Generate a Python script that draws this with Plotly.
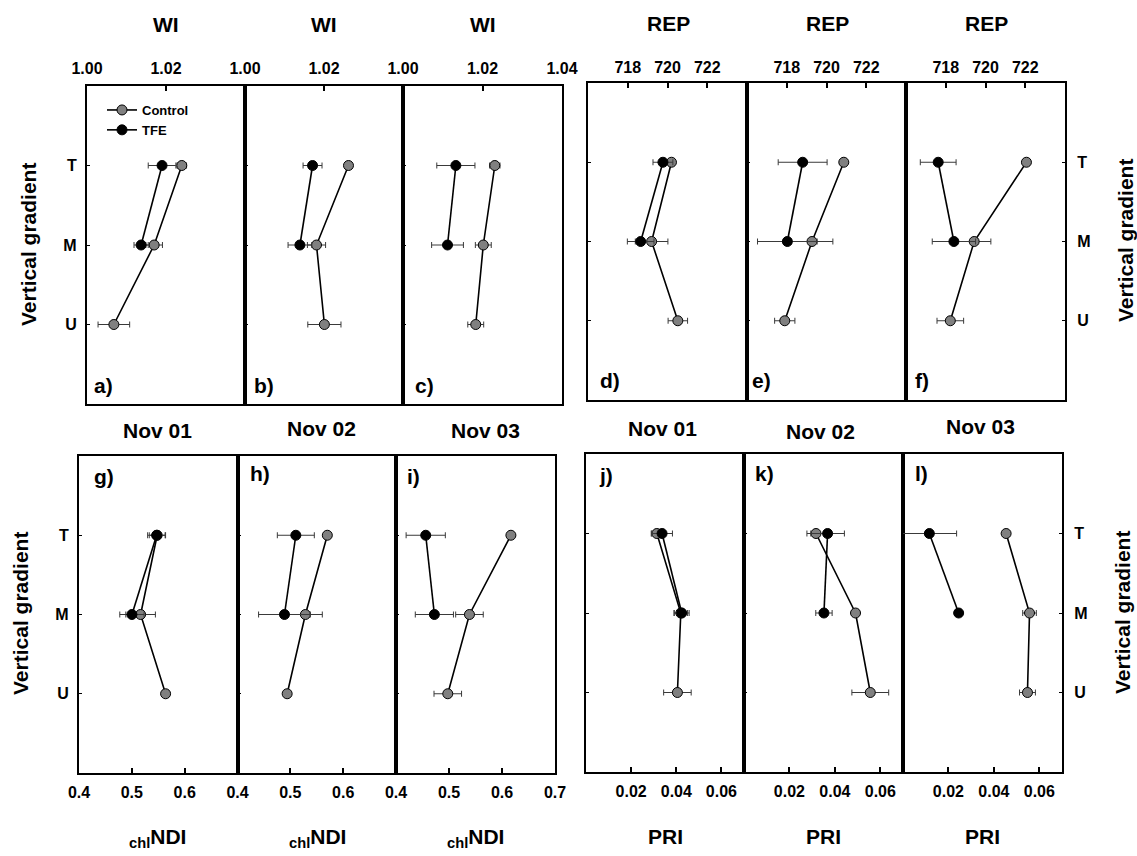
import plotly.graph_objects as go

# ---------------- data ----------------
levels_ctrl = ["T", "M", "U"]
levels_tfe = ["T", "M"]
dates = ["Nov 01", "Nov 02", "Nov 03"]

# WI
wi_ctrl = [[1.0240, 1.0170, 1.0068], [1.0262, 1.0181, 1.0201], [1.0231, 1.0202, 1.0183]]
wi_ctrl_err = [[0.0012, 0.0021, 0.0040], [0.0000, 0.0023, 0.0042], [0.0013, 0.0020, 0.0020]]
wi_tfe = [[1.0190, 1.0137], [1.0171, 1.0139], [1.0133, 1.0112]]
wi_tfe_err = [[0.0035, 0.0018], [0.0024, 0.0030], [0.0048, 0.0040]]

# REP
rep_ctrl = [[720.20, 719.20, 720.52], [720.87, 719.27, 717.90], [722.06, 719.43, 718.23]]
rep_ctrl_err = [[0.15, 0.82, 0.49], [0.00, 1.05, 0.51], [0.15, 0.84, 0.67]]
rep_tfe = [[719.77, 718.65], [718.80, 718.03], [717.62, 718.41]]
rep_tfe_err = [[0.50, 0.67], [1.23, 1.50], [0.90, 1.09]]

# chlNDI
ndi_ctrl = [[0.548, 0.5166, 0.5639], [0.570, 0.5285, 0.4940], [0.6168, 0.5386, 0.4977]]
ndi_ctrl_err = [[0.015, 0.028, 0.000], [0.000, 0.032, 0.000], [0.000, 0.026, 0.026]]
ndi_tfe = [[0.5469, 0.5002], [0.5104, 0.4889], [0.4561, 0.4724]]
ndi_tfe_err = [[0.017, 0.023], [0.035, 0.049], [0.037, 0.036]]

# PRI
pri_ctrl = [[0.0314, 0.0420, 0.0405], [0.0317, 0.0491, 0.0556], [0.0454, 0.0557, 0.0548]]
pri_ctrl_err = [[0.0025, 0.0030, 0.0061], [0.0040, 0.0000, 0.0081], [0.0000, 0.0030, 0.0035]]
pri_tfe = [[0.0337, 0.0424], [0.0368, 0.0352], [0.0116, 0.0245]]
pri_tfe_err = [[0.0046, 0.0033], [0.0074, 0.0036], [0.0120, 0.0000]]

wi_ticks = [1.00, 1.02, 1.04]
rep_ticks = [718, 720, 722]
ndi_ticks = [0.4, 0.5, 0.6, 0.7]
pri_ticks = [0.02, 0.04, 0.06]

panel_letters = ["a)", "b)", "c)", "d)", "e)", "f)", "g)", "h)", "i)", "j)", "k)", "l)"]

# ---------------- layout helpers ----------------
W, H = 1137, 856
FONT = "Liberation Sans, Arial, sans-serif"


def fx(p):
    return p / W


def fy(p):
    return 1 - p / H


groups = [
    dict(title="WI", ctrl=wi_ctrl, ce=wi_ctrl_err, tfe=wi_tfe, te=wi_tfe_err,
         xb=[87, 245, 403, 562], yb=[86, 404], rng=[1.00, 1.04], ticks=wi_ticks,
         fmt="{:.2f}", top=True, yside="left", xstand=4,
         letters_xy=[(92, 385), (252, 385), (413, 385)]),
    dict(title="REP", ctrl=rep_ctrl, ce=rep_ctrl_err, tfe=rep_tfe, te=rep_tfe_err,
         xb=[588, 747, 906, 1065], yb=[83, 400], rng=[716, 724], ticks=rep_ticks,
         fmt="{:.0f}", top=True, yside="right", xstand=2,
         letters_xy=[(598, 381), (750, 381), (913, 381)]),
    dict(title="<sub>chl</sub>NDI", ctrl=ndi_ctrl, ce=ndi_ctrl_err, tfe=ndi_tfe, te=ndi_tfe_err,
         xb=[79, 237.5, 396, 555], yb=[456, 773], rng=[0.4, 0.7], ticks=ndi_ticks,
         fmt="{:.1f}", top=False, yside="left", xstand=4,
         letters_xy=[(92, 477), (248, 473), (405, 477)]),
    dict(title="PRI", ctrl=pri_ctrl, ce=pri_ctrl_err, tfe=pri_tfe, te=pri_tfe_err,
         xb=[586, 744, 903, 1062], yb=[454, 772], rng=[0.0, 0.07], ticks=pri_ticks,
         fmt="{:.2f}", top=False, yside="right", xstand=4,
         letters_xy=[(597, 475), (753, 473), (913, 473)]),
]

fig = go.Figure()
layout = dict(width=W, height=H, margin=dict(l=0, r=0, t=0, b=0, pad=0, autoexpand=False),
              paper_bgcolor="white", plot_bgcolor="white",
              font=dict(family=FONT, size=16, color="black", weight="bold"),
              showlegend=True)
annotations = []

err_style = dict(type="data", visible=True, color="#3a3a3a", thickness=1, width=3)
k = 0
for gi, g in enumerate(groups):
    for di in range(3):
        k += 1
        xa = f"x{k}" if k > 1 else "x"
        ya = f"y{k}" if k > 1 else "y"
        xkey = f"xaxis{k}" if k > 1 else "xaxis"
        ykey = f"yaxis{k}" if k > 1 else "yaxis"
        first = (k == 1)
        # Control
        fig.add_trace(go.Scatter(
            x=g["ctrl"][di], y=levels_ctrl, xaxis=xa, yaxis=ya,
            mode="lines+markers", name="Control", legendgroup="Control", showlegend=first,
            line=dict(color="black", width=1.6),
            marker=dict(size=10, color="#808080", line=dict(color="black", width=1)),
            error_x=dict(array=g["ce"][di], **err_style)))
        # TFE
        fig.add_trace(go.Scatter(
            x=g["tfe"][di], y=levels_tfe, xaxis=xa, yaxis=ya,
            mode="lines+markers", name="TFE", legendgroup="TFE", showlegend=first,
            line=dict(color="black", width=1.6),
            marker=dict(size=10, color="black", line=dict(color="black", width=1)),
            error_x=dict(array=g["te"][di], **err_style)))

        tv = [t for t in g["ticks"] if t < g["rng"][1] - 1e-9 or di == 2]
        lo, hi = g["rng"]
        eps = (hi - lo) * 1e-6
        layout[xkey] = dict(
            domain=[fx(g["xb"][di]), fx(g["xb"][di + 1])], anchor=ya,
            range=[lo - eps, hi + eps], tickmode="array", tickvals=tv,
            ticktext=[g["fmt"].format(t) for t in tv], tickangle=0,
            side="top" if g["top"] else "bottom", automargin=False,
            ticks="inside", ticklen=5, tickwidth=2, tickcolor="black",
            ticklabelstandoff=g["xstand"],
            tickfont=dict(family=FONT, size=16, color="black", weight="bold"),
            showline=True, linewidth=2.2, linecolor="black", mirror=True,
            showgrid=False, zeroline=False, fixedrange=True)
        outer = (g["yside"] == "left" and di == 0) or (g["yside"] == "right" and di == 2)
        layout[ykey] = dict(
            domain=[fy(g["yb"][1]), fy(g["yb"][0])], anchor=xa,
            type="category", categoryorder="array", categoryarray=levels_ctrl,
            range=[3, -1], side=g["yside"] if outer else "left", automargin=False,
            showticklabels=outer, ticks="inside", ticklen=3, tickwidth=1, tickcolor="black",
            ticklabelstandoff=5 if g["yside"] == "left" else 7,
            tickfont=dict(family=FONT, size=16, color="black", weight="bold"),
            showline=True, linewidth=2.2, linecolor="black", mirror=True,
            showgrid=False, zeroline=False, fixedrange=True)

        # panel letters
        lx, ly = g["letters_xy"][di]
        annotations.append(dict(text=panel_letters[k - 1], x=fx(lx), y=fy(ly), xref="paper", yref="paper",
                                xanchor="left", yanchor="middle", showarrow=False,
                                font=dict(family=FONT, size=21, color="black", weight="bold")))

# index titles (top) / axis titles (bottom)
title_font = dict(family=FONT, size=21, color="black", weight="bold")


def add_text(t, xv, yv, angle=0):
    annotations.append(dict(text=t, x=fx(xv), y=fy(yv), xref="paper", yref="paper",
                            xanchor="center", yanchor="middle", showarrow=False,
                            textangle=angle, font=title_font))


top_titles = [("WI", [166, 324, 483], 25), ("REP", [668, 827, 986], 23)]
for t, xs, yv in top_titles:
    for xv in xs:
        add_text(t, xv, yv)
bottom_titles = [("<sub>chl</sub>NDI", [157, 317, 475], 838), ("PRI", [665, 823, 982], 836)]
for t, xs, yv in bottom_titles:
    for xv in xs:
        add_text(t, xv, yv)

# dates between rows
date_pos = [[(157, 430), (321, 428), (485, 430)], [(662, 428), (820, 431), (980, 426)]]
for row in date_pos:
    for (xv, yv), d in zip(row, dates):
        add_text(d, xv, yv)

# vertical gradient labels
for xv, yv in [(28, 245), (20, 614), (1125, 241), (1122, 613)]:
    add_text("Vertical gradient", xv, yv, angle=-90)

layout["annotations"] = annotations
layout["legend"] = dict(x=fx(102), y=fy(95), xanchor="left", yanchor="top",
                        bgcolor="rgba(0,0,0,0)", borderwidth=0, itemwidth=30,
                        tracegroupgap=0,
                        font=dict(family=FONT, size=13, color="black", weight="bold"))
fig.update_layout(**layout)
fig.write_html("out.html")
